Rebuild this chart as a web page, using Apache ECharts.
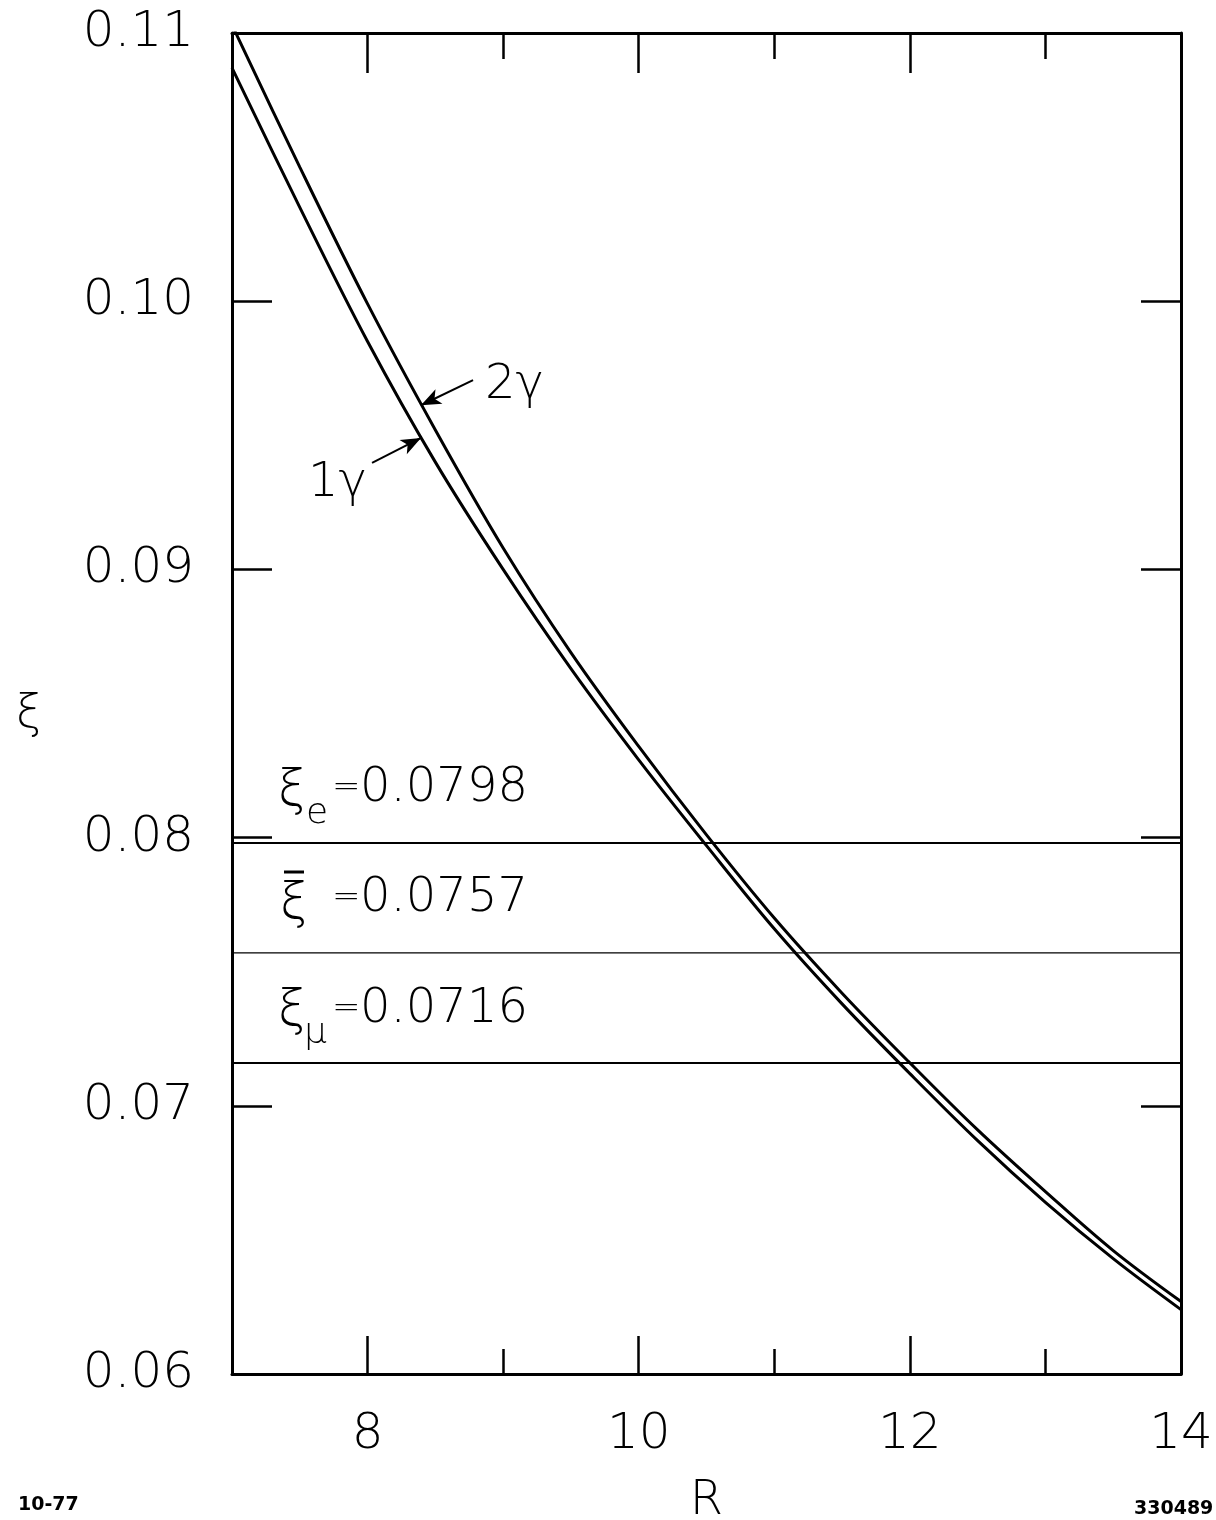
<!DOCTYPE html>
<html>
<head>
<meta charset="utf-8">
<script src="https://cdn.jsdelivr.net/npm/echarts@6/dist/echarts.min.js"></script>
<style>
html,body{margin:0;padding:0;background:#fff;overflow:hidden;}
#chart{width:1216px;height:1520px;}
</style>
</head>
<body>
<div id="chart"></div>
<script>
// ---- data ----
const R = [7, 7.5, 8, 8.5, 9, 9.5, 10, 10.5, 11, 11.5, 12, 12.5, 13, 13.5, 14];
const xi1gamma = [0.1087, 0.1035, 0.0985, 0.0940, 0.0900, 0.0863, 0.0829, 0.0797, 0.0766, 0.0738, 0.0712, 0.0687, 0.0664, 0.0643, 0.0624];
const xi2gamma = [0.1103, 0.1050, 0.0999, 0.0952, 0.0908, 0.0869, 0.0834, 0.0801, 0.0770, 0.0742, 0.0716, 0.0691, 0.0668, 0.0646, 0.0627];
const refValues = [0.0798, 0.0757, 0.0716];           // xi_e, xi-bar, xi_mu
const refWidths = [2, 1.2, 2];
const xLabelTicks = [8, 10, 12, 14];
const xMajorTicks = [8, 10, 12];
const xMinorTicks = [9, 11, 13];
const xRange = [7, 14];
const yRange = [0.06, 0.11];
// annotation arrows [tailR, tailXi, headR, headXi]
const arrow2 = [8.778, 0.09706, 8.394, 0.09612];
const arrow1 = [8.033, 0.09397, 8.394, 0.09490];

const FONT = 'DejaVu Sans';
const chart = echarts.init(document.getElementById('chart'), null, {renderer: 'canvas'});

function pairs(xs, ys) { return xs.map((x, i) => [x, ys[i]]); }

const tickStyle = {color: '#000', width: 2.5};
function xAx(pos, ticks, len, labels, extra) {
  return Object.assign({
    type: 'value', position: pos, min: xRange[0], max: xRange[1], interval: 1,
    axisLine: {show: true, onZero: false, lineStyle: {color: '#000', width: 3}},
    axisTick: {show: true, inside: true, length: len, customValues: ticks, lineStyle: tickStyle},
    axisLabel: labels ? {show: true, customValues: xLabelTicks, fontSize: 50, fontFamily: FONT, fontWeight: 300, color: '#000', margin: 36} : {show: false},
    splitLine: {show: false}
  }, extra || {});
}

const series = [
  {
    name: '1γ', type: 'line', data: pairs(R, xi1gamma), smooth: 0.35, symbol: 'none',
    lineStyle: {color: '#000', width: 3}, xAxisIndex: 0, yAxisIndex: 0, z: 5,
    markLine: {
      silent: true, symbol: ['none', 'arrow'], symbolSize: [12, 20],
      label: {show: false}, lineStyle: {color: '#000', width: 2, type: 'solid'},
      data: [[{coord: [arrow1[0], arrow1[1]]}, {coord: [arrow1[2], arrow1[3]]}]]
    }
  },
  {
    name: '2γ', type: 'line', data: pairs(R, xi2gamma), smooth: 0.35, symbol: 'none',
    lineStyle: {color: '#000', width: 3}, xAxisIndex: 0, yAxisIndex: 0, z: 5,
    markLine: {
      silent: true, symbol: ['none', 'arrow'], symbolSize: [12, 20],
      label: {show: false}, lineStyle: {color: '#000', width: 2, type: 'solid'},
      data: [[{coord: [arrow2[0], arrow2[1]]}, {coord: [arrow2[2], arrow2[3]]}]]
    }
  }
];
refValues.forEach((v, i) => {
  series.push({
    type: 'line', data: [[xRange[0], v], [xRange[1], v]], symbol: 'none',
    lineStyle: {color: '#000', width: refWidths[i]}, xAxisIndex: 0, yAxisIndex: 0, z: 4
  });
});

function txt(x, y, text, size, extra) {
  return {
    type: 'text', x: x, y: y, z: 10,
    style: Object.assign({text: text, fontSize: size, fontFamily: FONT, fontWeight: 300, fill: '#000', align: 'left', verticalAlign: 'middle'}, extra || {})
  };
}

const option = {
  backgroundColor: '#fff',
  animation: false,
  grid: {left: 232, right: 35, top: 33, bottom: 146, containLabel: false, outerBoundsMode: 'none'},
  xAxis: [
    xAx('bottom', xMajorTicks, 38, true, {name: 'R', nameLocation: 'middle', nameGap: 104,
      nameTextStyle: {fontSize: 48, fontFamily: FONT, fontWeight: 300, color: '#000'}}),
    xAx('bottom', xMinorTicks, 25, false, {axisLine: {show: false}}),
    xAx('top', xMajorTicks, 40, false),
    xAx('top', xMinorTicks, 26, false, {axisLine: {show: false}})
  ],
  yAxis: [
    {
      type: 'value', position: 'left', min: yRange[0], max: yRange[1], interval: 0.01,
      axisLine: {show: true, onZero: false, lineStyle: {color: '#000', width: 3}},
      axisTick: {show: true, inside: true, length: 40, lineStyle: tickStyle},
      axisLabel: {show: true, fontSize: 50, fontFamily: FONT, fontWeight: 300, color: '#000', margin: 38,
        formatter: v => v.toFixed(2)},
      splitLine: {show: false}
    },
    {
      type: 'value', position: 'right', min: yRange[0], max: yRange[1], interval: 0.01,
      axisLine: {show: true, onZero: false, lineStyle: {color: '#000', width: 3}},
      axisTick: {show: true, inside: true, length: 40, lineStyle: tickStyle},
      axisLabel: {show: false}, splitLine: {show: false}
    }
  ],
  series: series,
  graphic: [
    // y axis name
    txt(16, 715, 'ξ', 46),
    // xi_e = 0.0798
    txt(278, 792, 'ξ', 50),
    txt(306, 814, 'e', 36),
    txt(332, 788, '=', 34),
    txt(360, 789, '0.0798', 48),
    // xi-bar = 0.0757
    txt(280, 905, 'ξ', 50),
    {type: 'line', z: 10, shape: {x1: 284, y1: 872, x2: 304, y2: 872}, style: {stroke: '#000', lineWidth: 3}},
    txt(332, 898, '=', 34),
    txt(360, 899, '0.0757', 48),
    // xi_mu = 0.0716
    txt(278, 1012, 'ξ', 50),
    txt(304, 1034, 'μ', 36),
    txt(332, 1009, '=', 34),
    txt(360, 1010, '0.0716', 48),
    // curve labels
    txt(485, 386, '2γ', 48),
    txt(308, 484, '1γ', 48),
    // corner notes
    txt(18, 1505, '10-77', 19, {fontWeight: 'bold'}),
    txt(1134, 1509, '330489', 19, {fontWeight: 'bold'})
  ]
};
chart.setOption(option);
</script>
</body>
</html>
